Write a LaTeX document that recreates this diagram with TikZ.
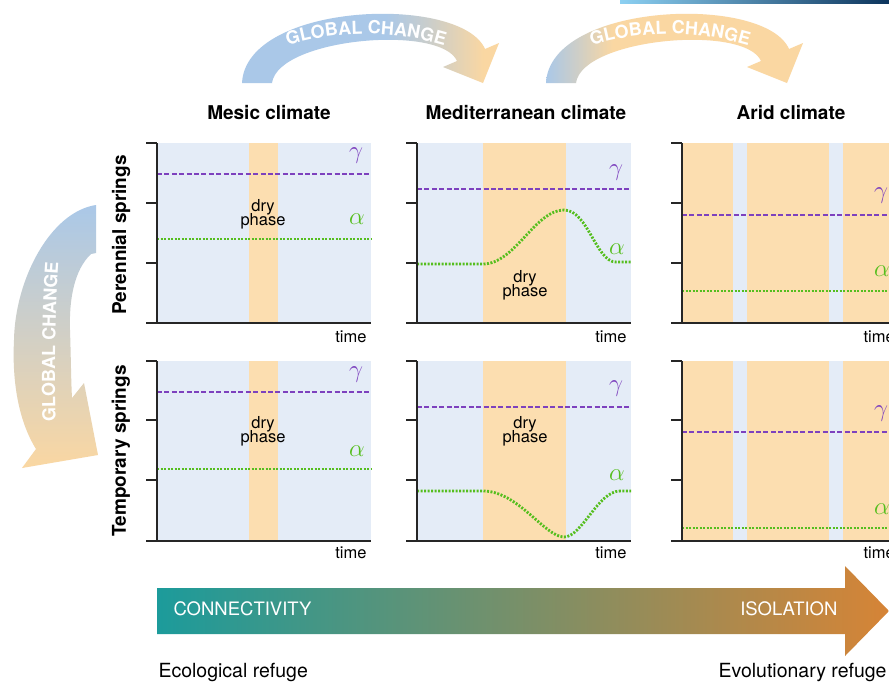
\documentclass[tikz,border=0pt]{standalone}
\usepackage{fontspec}
\setmainfont{TeX Gyre Heros}
\usetikzlibrary{decorations.text}
\definecolor{bgblue}{RGB}{228,236,247}
\definecolor{dryor}{RGB}{252,222,176}
\definecolor{gpurple}{RGB}{125,65,190}
\definecolor{agreen}{RGB}{85,190,30}
\definecolor{arblue}{RGB}{170,200,232}
\definecolor{arorange}{RGB}{250,215,162}
\definecolor{argrey}{RGB}{205,206,200}
\definecolor{barteal}{RGB}{28,155,155}
\definecolor{barorange}{RGB}{214,132,54}
\definecolor{topa}{RGB}{140,208,242}
\definecolor{topb}{RGB}{0,130,198}
\definecolor{topc}{RGB}{12,52,92}
\pgfdeclarehorizontalshading{gcone}{100bp}{color(0bp)=(arblue); color(25bp)=(arblue); color(53bp)=(arblue); color(62bp)=(argrey); color(72bp)=(arorange); color(100bp)=(arorange)}
\pgfdeclarehorizontalshading{gctwo}{100bp}{color(0bp)=(arblue); color(25bp)=(arblue); color(31bp)=(argrey); color(38bp)=(arorange); color(100bp)=(arorange)}
\tikzset{
  axisline/.style={line width=1.5pt, draw=black!85},
  gline/.style={gpurple, line width=2.6pt, dash pattern=on 5pt off 2.4pt},
  aline/.style={agreen, line width=2.8pt, dash pattern=on 2pt off 1.5pt},
  title/.style={font=\fontsize{19}{19}\selectfont\bfseries},
  rowlab/.style={font=\fontsize{19}{19}\selectfont\bfseries, rotate=90},
  drytext/.style={font=\fontsize{16.5}{17}\selectfont, align=center},
  timetext/.style={font=\fontsize{16.5}{17}\selectfont, anchor=east},
  glab/.style={text=gpurple, font=\fontsize{25}{25}\selectfont},
  alab/.style={text=agreen, font=\fontsize{27}{27}\selectfont},
  bartext/.style={text=white, font=\fontsize{18.5}{19}\selectfont},
  reftext/.style={font=\fontsize{19.5}{20}\selectfont},
  gctext/.style={decorate, decoration={text along path, text align=center, text color=white,
    text={|\fontsize{18}{18}\selectfont\bfseries|GLOBAL CHANGE}}},
}
\begin{document}
\begin{tikzpicture}[x=1pt,y=-1pt]
\useasboundingbox (0,0) rectangle (889,686);
\clip (0,0) rectangle (889,686);
\fill[white] (0,0) rectangle (889,686);

% top-right strip
\shade[left color=topa, middle color=topb, right color=topc] (620,0) rectangle (889,3);

% top arrows
\shade[shading=gcone] (242,83) .. controls (246,2) and (461,-6) .. (485,49) -- (499,43) -- (483,83) -- (443,67) -- (457,61) .. controls (441,24) and (278,38) .. (272,83) -- cycle;
\path[gctext] (250,60) .. controls (323.5,25.4) and (408.5,25.4) .. (482,60);
\begin{scope}[xshift=304pt]
\shade[shading=gctwo] (242,83) .. controls (246,2) and (461,-6) .. (485,49) -- (499,43) -- (483,83) -- (443,67) -- (457,61) .. controls (441,24) and (278,38) .. (272,83) -- cycle;
\path[gctext] (250,60) .. controls (323.5,25.4) and (408.5,25.4) .. (482,60);
\end{scope}

% left arrow
\shade[top color=arblue, bottom color=arorange] (96,205) -- (96,253) -- (91,254)
  .. controls (74,270) and (69,300) .. (70,330) .. controls (71,360) and (71,380) .. (72,398)
  -- (84,383) -- (98,455) -- (22,468) -- (36,449)
  .. controls (18,420) and (12,380) .. (14,340) .. controls (15,280) and (50,212) .. (96,205) -- cycle;
\path[gctext] (56,440) .. controls (54,370) and (55,300) .. (60,245);

% column titles
\node[title] (t1) at (269,113) {Mesic climate};
\node[title] (t2) at (526,113) {Mediterranean climate};
\node[title] (t3) at (791,113) {Arid climate};
% row labels
\node[rowlab] (r1) at (121,235) {Perennial springs};
\node[rowlab] (r2) at (121,451) {Temporary springs};

% ---------- panel 1 ----------
\fill[bgblue] (157,143) rectangle (371,323);
\fill[dryor] (249,143) rectangle (278,323);
\draw[gline] (157,174) -- (371,174);
\draw[aline] (157,239) -- (371,239);
\draw[axisline] (157,143) -- (157,323) -- (371,323);
\foreach \yy in {143,203,263,323} \draw[axisline] (146,\yy) -- (157,\yy);
\node[drytext] (d1) at (263,214) {dry\\[-3pt]phase};
\node[glab] (g1) at (356,156) {$\gamma$};
\node[alab] (a1) at (357,219) {$\alpha$};
\node[timetext] (m1) at (370,337) {time};

% ---------- panel 2 ----------
\fill[bgblue] (417,143) rectangle (631,323);
\fill[dryor] (483,143) rectangle (566,323);
\draw[gline] (417,189) -- (631,189);
\draw[aline] (417,264) -- (483,264) .. controls (515,264) and (535,210) .. (564,210) .. controls (588,210) and (596,262) .. (616,262) -- (631,262);
\draw[axisline] (417,143) -- (417,323) -- (631,323);
\foreach \yy in {143,203,263,323} \draw[axisline] (406,\yy) -- (417,\yy);
\node[drytext] (d2) at (525,285) {dry\\[-3pt]phase};
\node[glab] (g2) at (616,173) {$\gamma$};
\node[alab] (a2) at (617,249) {$\alpha$};
\node[timetext] (m2) at (630,337) {time};

% ---------- panel 3 ----------
\fill[dryor] (682,143) rectangle (895,323);
\fill[bgblue] (733,143) rectangle (747,323);
\fill[bgblue] (829,143) rectangle (843,323);
\draw[gline] (682,215) -- (895,215);
\draw[aline] (682,291) -- (895,291);
\draw[axisline] (682,143) -- (682,323) -- (895,323);
\foreach \yy in {143,203,263,323} \draw[axisline] (671,\yy) -- (682,\yy);
\node[glab] (g3) at (881,196) {$\gamma$};
\node[alab] (a3) at (882,271) {$\alpha$};
\node[timetext, anchor=west] (m3) at (860,337) {time};

% ---------- panel 4 ----------
\fill[bgblue] (157,361) rectangle (371,541);
\fill[dryor] (249,361) rectangle (278,541);
\draw[gline] (157,392) -- (371,392);
\draw[aline] (157,469) -- (371,469);
\draw[axisline] (157,361) -- (157,541) -- (371,541);
\foreach \yy in {361,420,480,541} \draw[axisline] (146,\yy) -- (157,\yy);
\node[drytext] (d4) at (263,431) {dry\\[-3pt]phase};
\node[glab] (g4) at (356,375) {$\gamma$};
\node[alab] (a4) at (357,451) {$\alpha$};
\node[timetext] (m4) at (370,553) {time};

% ---------- panel 5 ----------
\fill[bgblue] (417,361) rectangle (631,541);
\fill[dryor] (483,361) rectangle (566,541);
\draw[gline] (417,407) -- (631,407);
\draw[aline] (417,491) -- (483,491) .. controls (518,491) and (545,537) .. (564,537) .. controls (582,537) and (598,491) .. (620,491) -- (631,491);
\draw[axisline] (417,361) -- (417,541) -- (631,541);
\foreach \yy in {361,420,480,541} \draw[axisline] (406,\yy) -- (417,\yy);
\node[drytext] (d5) at (525,431) {dry\\[-3pt]phase};
\node[glab] (g5) at (616,389) {$\gamma$};
\node[alab] (a5) at (617,475) {$\alpha$};
\node[timetext] (m5) at (630,553) {time};

% ---------- panel 6 ----------
\fill[dryor] (682,361) rectangle (895,541);
\fill[bgblue] (733,361) rectangle (747,541);
\fill[bgblue] (829,361) rectangle (843,541);
\draw[gline] (682,432) -- (895,432);
\draw[aline] (682,528) -- (895,528);
\draw[axisline] (682,361) -- (682,541) -- (895,541);
\foreach \yy in {361,420,480,541} \draw[axisline] (671,\yy) -- (682,\yy);
\node[glab] (g6) at (881,414) {$\gamma$};
\node[alab] (a6) at (882,509) {$\alpha$};
\node[timetext, anchor=west] (m6) at (860,553) {time};

% bottom arrow
\shade[left color=barteal, right color=barorange] (157,588) -- (845,588) -- (845,566) -- (889,611) -- (845,656) -- (845,634) -- (157,634) -- cycle;
\node[bartext, anchor=west] (conn) at (170,609) {CONNECTIVITY};
\node[bartext, anchor=east] (iso) at (841,609) {ISOLATION};
\node[reftext, anchor=west] (eco) at (155,672) {Ecological refuge};
\node[reftext, anchor=west] (evo) at (715,672) {Evolutionary refuge};
\end{tikzpicture}
\end{document}
